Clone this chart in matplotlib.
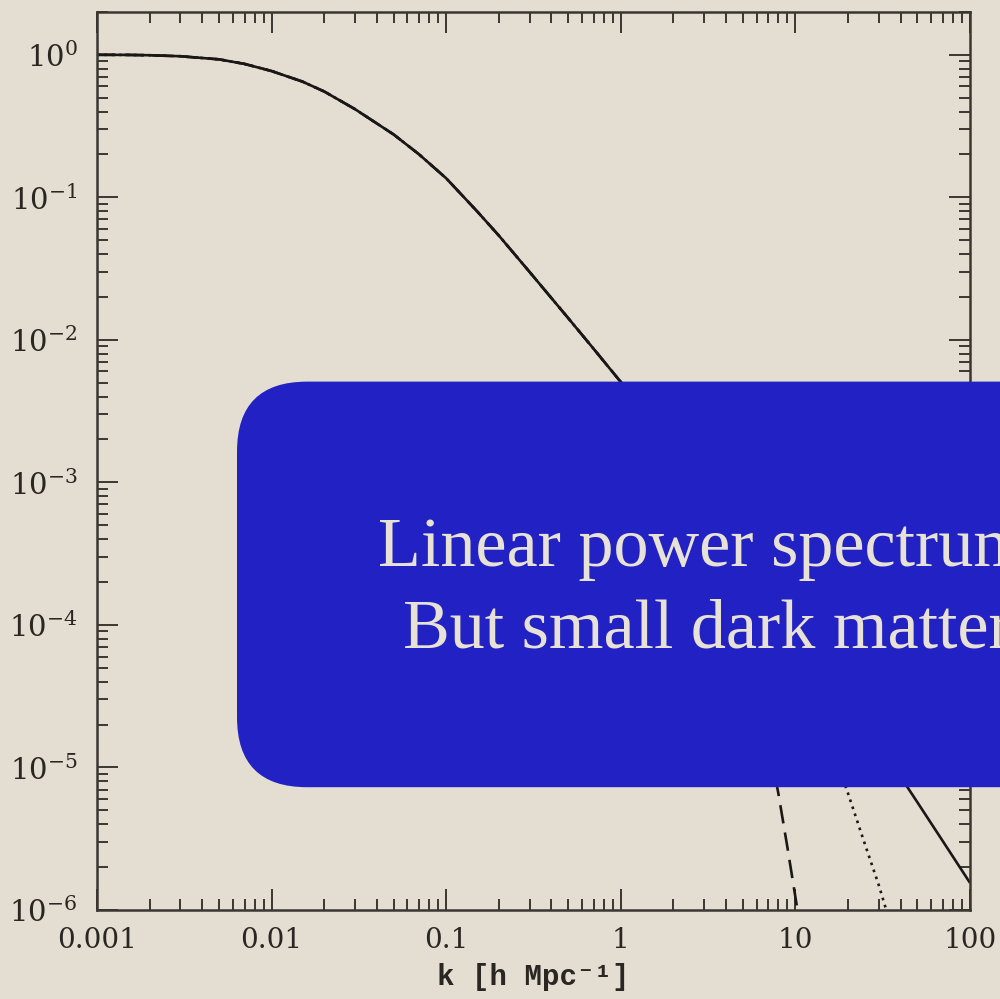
import matplotlib.pyplot as plt
from matplotlib.patches import FancyBboxPatch

# linear power spectrum (normalised)
k_cdm = [0.001, 0.0015, 0.002, 0.003, 0.005, 0.007, 0.01, 0.015, 0.02, 0.03,
         0.05, 0.07, 0.1, 0.15, 0.2, 0.3, 0.5, 0.7, 1.0,
         1.5, 2, 3, 5, 7, 10, 15, 20, 30, 50, 70, 100]
p_cdm = [1.0, 0.998, 0.993, 0.977, 0.929, 0.863, 0.769, 0.649, 0.553, 0.416,
         0.276, 0.200, 0.136, 0.080, 0.054, 0.030, 0.0142, 0.00863, 0.00506,
         2.70e-3, 1.70e-3, 8.73e-4, 3.66e-4, 2.04e-4, 1.09e-4, 5.24e-5, 3.10e-5, 1.47e-5, 5.69e-6, 3.03e-6, 1.55e-6]

# warm dark matter cut-offs (same as cdm up to k=1)
n_same = 19
k_dash = k_cdm[:n_same] + [1.5, 2, 3, 4, 5, 6, 7, 8, 9, 10.5]
p_dash = p_cdm[:n_same] + [2.55e-3, 1.45e-3, 5.2e-4, 2.1e-4, 8.8e-5, 3.7e-5, 1.55e-5, 6.5e-6, 2.75e-6, 8.5e-7]

k_dot = k_cdm[:n_same] + [1.5, 2, 3, 5, 7, 10, 13, 16, 20, 25, 30, 34]
p_dot = p_cdm[:n_same] + [2.67e-3, 1.66e-3, 8.2e-4, 3.1e-4, 1.45e-4, 6.1e-5, 2.85e-5, 1.42e-5, 6.6e-6, 2.9e-6, 1.5e-6, 9e-7]

xtick_vals = [0.001, 0.01, 0.1, 1, 10, 100]
xtick_labels = ['0.001', '0.01', '0.1', '1', '10', '100']
ytick_vals = [1e0, 1e-1, 1e-2, 1e-3, 1e-4, 1e-5, 1e-6]
ytick_labels = ['$10^{0}$', '$10^{-1}$', '$10^{-2}$', '$10^{-3}$', '$10^{-4}$', '$10^{-5}$', '$10^{-6}$']

line1 = 'Linear power spectrum'
line2 = 'But small dark matter'

bg = '#e4ded2'
ink = '#1a1816'
frame = '#3a3630'

plt.rcParams['mathtext.fontset'] = 'dejavuserif'

fig = plt.figure(figsize=(10, 9.99), dpi=100, facecolor=bg)
ax = fig.add_axes([0.097, 0.0891, 0.873, 0.899])
ax.set_facecolor(bg)

ax.plot(k_cdm, p_cdm, color=ink, lw=1.9, solid_capstyle='butt')
ax.plot(k_dash, p_dash, color=ink, lw=1.9, dashes=(7, 3.5))
ax.plot(k_dot, p_dot, color=ink, lw=1.9, dashes=(1, 1.8))

ax.set_xscale('log')
ax.set_yscale('log')
ax.set_xlim(0.001, 100)
ax.set_ylim(1e-6, 2.0)

ax.set_xticks(xtick_vals, labels=xtick_labels)
ax.set_yticks(ytick_vals, labels=ytick_labels)
ax.minorticks_on()
ax.xaxis.set_minor_formatter(plt.NullFormatter())
ax.yaxis.set_minor_formatter(plt.NullFormatter())

ax.tick_params(which='both', direction='in', top=True, right=True, color=frame, width=1.4)
ax.tick_params(which='major', length=15)
ax.tick_params(which='minor', length=8)
ax.tick_params(axis='x', which='major', pad=12, labelsize=20, labelcolor='#2a2622')
ax.tick_params(axis='y', which='major', pad=14, labelsize=21, labelcolor='#2a2622')
for lab in ax.get_xticklabels():
    lab.set_fontfamily('DejaVu Serif')

for s in ax.spines.values():
    s.set_color(frame)
    s.set_linewidth(1.8)

ax.set_xlabel('k [h Mpc⁻¹]', fontsize=21, fontweight='bold', color='#2a2622',
              family=['Liberation Mono', 'DejaVu Sans Mono'], labelpad=7)

# blue overlay box with slide text
box = FancyBboxPatch((0.237, 0.212), 0.9, 0.406, boxstyle='round,pad=0,rounding_size=0.07',
                     transform=fig.transFigure, facecolor='#2222c4', edgecolor='none',
                     zorder=10, clip_on=False)
fig.patches.append(box)
fig.text(0.378, (999 - 566) / 999, line1, fontsize=50.5, color='#e8e2d6',
         family='Liberation Serif', ha='left', va='baseline', zorder=11)
fig.text(0.403, (999 - 647) / 999, line2, fontsize=50.5, color='#e8e2d6',
         family='Liberation Serif', ha='left', va='baseline', zorder=11)

fig.savefig('out.png', dpi=100, facecolor=bg)
